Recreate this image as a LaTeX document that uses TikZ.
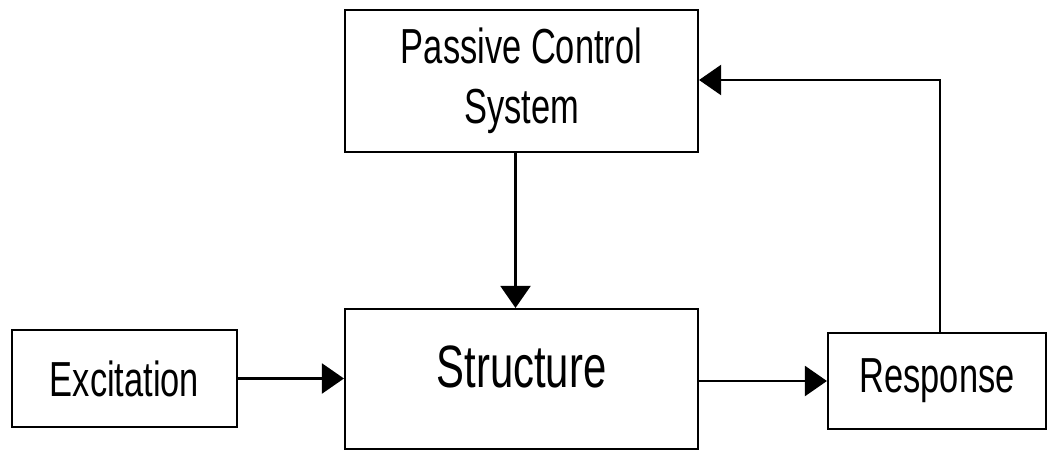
\documentclass[tikz,border=0pt]{standalone}
\usepackage{fontspec}
\setmainfont[FakeStretch=0.7]{Liberation Sans}
\usetikzlibrary{arrows.meta, positioning}

\tikzset{
  block/.style={draw, rectangle, line width=0.6pt, align=center, font=\fontsize{14}{17}\selectfont},
  flow/.style={-{Triangle[length=2.2mm, width=3mm]}, line width=0.6pt}
}

\begin{document}
\begin{tikzpicture}[auto]
  \useasboundingbox (0,0) rectangle (10.48,4.5);
  % Bloecke
  \node[block, minimum width=3.53cm, minimum height=1.42cm] (passive) at (5.215,3.69) {Passive Control\\System};
  \node[block, minimum width=3.53cm, minimum height=1.40cm, font=\fontsize{17}{20}\selectfont, text depth=0.25cm] (structure) at (5.215,0.71) {Structure};
  \node[block, minimum width=2.25cm, minimum height=0.97cm] (excitation) at (1.245,0.715) {Excitation};
  \node[block, minimum width=2.18cm, minimum height=0.96cm] (response) at (9.37,0.69) {Response};

  % Verbindungen
  \draw[flow] ([xshift=-0.06cm]passive.south) -- ([xshift=-0.06cm]structure.north);
  \draw[flow] (excitation.east) -- (structure.west |- excitation.east);
  \draw[flow] (structure.east |- response.west) -- (response.west);

  % Rueckfuehrung
  \coordinate (fb) at (9.40,3.70);
  \draw[flow] (response.north -| fb) -- (fb) -- (passive.east |- fb);
\end{tikzpicture}
\end{document}
